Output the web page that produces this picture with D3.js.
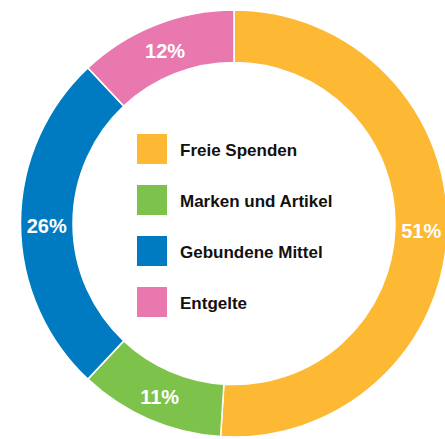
<!DOCTYPE html>
<html>
<head>
<meta charset="utf-8">
<script src="https://cdn.jsdelivr.net/npm/d3@7"></script>
<style>
  html, body { margin: 0; padding: 0; background: #fff; }
  svg { display: block; }
</style>
</head>
<body>
<script>
(function () {
  'use strict'

  var categories = ['Freie Spenden', 'Marken und Artikel', 'Gebundene Mittel', 'Entgelte']
  var values = [51, 11, 26, 12]
  var colors = ['#fdb934', '#7dc24b', '#007bc2', '#e878ae']

  var w = 445
  var h = 439
  var cx = 234
  var cy = 223.5
  var outer = 213.5
  var inner = 161

  var data = categories.map(function (c, i) {
    return { name: c, value: values[i], color: colors[i] }
  })

  var s = d3.select('body').append('svg')
    .attr('width', w)
    .attr('height', h)

  var pie = d3.pie()
    .sort(null)
    .value(function (d) { return d.value })

  var arc = d3.arc()
    .innerRadius(inner)
    .outerRadius(outer)

  var labelArc = d3.arc()
    .innerRadius((inner + outer) / 2)
    .outerRadius((inner + outer) / 2)

  var g = s.append('g')
    .attr('transform', 'translate(' + cx + ',' + cy + ')')

  var slices = pie(data)

  g.selectAll('path')
    .data(slices)
    .enter().append('path')
      .attr('d', arc)
      .attr('fill', function (d) { return d.data.color })
      .attr('stroke', '#fff')
      .attr('stroke-width', 1.5)

  g.selectAll('text.pct')
    .data(slices)
    .enter().append('text')
      .attr('class', 'pct')
      .attr('transform', function (d) {
        var p = labelArc.centroid(d)
        return 'translate(' + p[0] + ',' + (p[1] + 2) + ')'
      })
      .attr('text-anchor', 'middle')
      .attr('dominant-baseline', 'central')
      .attr('fill', '#fff')
      .style('font-family', 'Liberation Sans, Arial, sans-serif')
      .style('font-weight', 'bold')
      .style('font-size', '20px')
      .text(function (d) { return d.data.value + '%' })

  // Legend in the hole
  var legendY = d3.scaleBand()
    .domain(categories)
    .range([134, 338])

  var legend = s.append('g')
    .selectAll('g')
    .data(data)
    .enter().append('g')
      .attr('transform', function (d) {
        return 'translate(137,' + legendY(d.name) + ')'
      })

  legend.append('rect')
    .attr('width', 30)
    .attr('height', 30)
    .attr('fill', function (d) { return d.color })

  legend.append('text')
    .attr('x', 43)
    .attr('y', 16)
    .attr('dominant-baseline', 'central')
    .attr('fill', '#111')
    .style('font-family', 'Liberation Sans, Arial, sans-serif')
    .style('font-weight', 'bold')
    .style('font-size', '17px')
    .text(function (d) { return d.name })
}())
</script>
</body>
</html>
